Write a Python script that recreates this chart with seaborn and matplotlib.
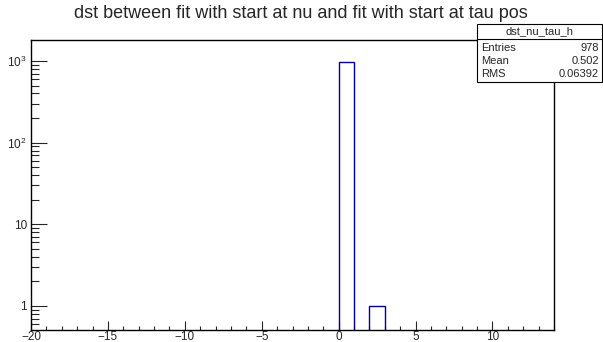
import numpy as np
import pandas as pd
import matplotlib
matplotlib.use("Agg")
import matplotlib.pyplot as plt
import seaborn as sns
from matplotlib.ticker import MultipleLocator, FixedLocator, LogLocator, NullFormatter

# ---- data ----
bin_centers = [0.5, 2.5]
bin_counts = [977, 1]
x_min, x_max, bin_width = -20, 14, 1
y_min, y_max = 0.515, 1830
y_tick_values = [1, 10, 100, 1000]
y_tick_labels = ["1", "10", "$10^{2}$", "$10^{3}$"]
title = "dst between fit with start at nu and fit with start at tau pos"
stats_name = "dst_nu_tau_h"
stats_rows = [("Entries", "978"), ("Mean", "0.502"), ("RMS", "0.06392")]

sns.set_style("white")
plt.rcParams["font.family"] = ["Liberation Sans", "DejaVu Sans"]
plt.rcParams["mathtext.fontset"] = "custom"
plt.rcParams["mathtext.rm"] = "Liberation Sans"
plt.rcParams["mathtext.it"] = "Liberation Sans"
plt.rcParams["mathtext.default"] = "regular"

W, H = 603, 342
fig = plt.figure(figsize=(W / 100, H / 100), dpi=100)
ax = fig.add_axes([31 / W, 1 - 329.5 / H, (554 - 31) / W, (329.5 - 39.5) / H])

df = pd.DataFrame({"x": bin_centers, "w": bin_counts})
sns.histplot(data=df, x="x", weights="w",
             binwidth=bin_width, binrange=(0, 3),
             element="bars", fill=False, color="#000099", linewidth=1.0, ax=ax)
ax.set_yscale("log")
ax.set_xlim(x_min, x_max)
ax.set_ylim(y_min, y_max)
ax.set_xlabel("")
ax.set_ylabel("")

for s in ax.spines.values():
    s.set_color("black")
    s.set_linewidth(1.0)

ax.xaxis.set_major_locator(MultipleLocator(5))
ax.xaxis.set_minor_locator(MultipleLocator(1))
ax.yaxis.set_major_locator(FixedLocator(y_tick_values))
ax.set_yticklabels(y_tick_labels)
ax.yaxis.set_minor_locator(LogLocator(base=10, subs=np.arange(2, 10)))
ax.yaxis.set_minor_formatter(NullFormatter())

ax.tick_params(axis="x", which="major", direction="in", length=6.3, width=0.8,
               labelsize=8.5, pad=1, bottom=True, top=False)
ax.tick_params(axis="x", which="minor", direction="in", length=3.1, width=0.8,
               bottom=True, top=False)
ax.tick_params(axis="y", which="major", direction="in", length=11.3, width=0.8,
               labelsize=8.5, pad=3, left=True, right=False)
ax.tick_params(axis="y", which="minor", direction="in", length=5.6, width=0.8,
               left=True, right=False)

fig.text(301 / W, 1 - 14 / H, title, ha="center", va="center", fontsize=13)

# stats box
bx0, bx1 = 477 / W, 602 / W
by_top, by_sep, by_bot = 1 - 24 / H, 1 - 39 / H, 1 - 82 / H
rect = plt.Rectangle((bx0, by_bot), bx1 - bx0, by_top - by_bot, transform=fig.transFigure,
                     facecolor="white", edgecolor="black", linewidth=0.8, zorder=10)
fig.add_artist(rect)
fig.add_artist(plt.Line2D([bx0, bx1], [by_sep, by_sep], transform=fig.transFigure,
                          color="black", linewidth=0.8, zorder=11))
fig.text((bx0 + bx1) / 2, (by_top + by_sep) / 2, stats_name, ha="center", va="center",
         fontsize=8, zorder=12)
row_y = [48, 61, 74]
for (k, v), yy in zip(stats_rows, row_y):
    fig.text(bx0 + 4 / W, 1 - yy / H, k, ha="left", va="center", fontsize=8, zorder=12)
    fig.text(bx1 - 3 / W, 1 - yy / H, v, ha="right", va="center", fontsize=8, zorder=12)

fig.savefig("out.png", dpi=100)
